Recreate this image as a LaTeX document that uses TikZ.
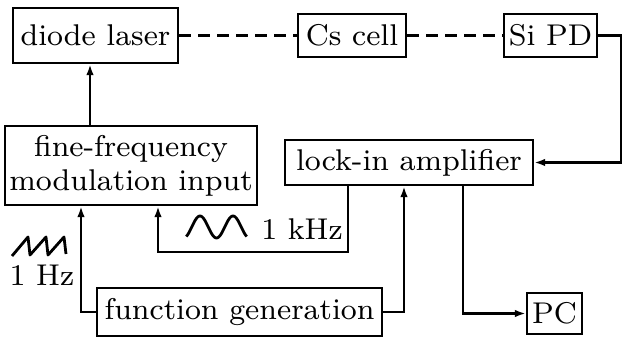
\documentclass[tikz,border=0pt]{standalone}
\usepackage{fontspec}
\newfontfamily\labelfont{lmroman8-regular.otf}
\usetikzlibrary{arrows.meta}
\begin{document}
\begin{tikzpicture}[x=0.5pt,y=-0.5pt,
  every node/.style={font=\labelfont\fontsize{15}{17}\selectfont},
  blk/.style={draw,line width=1.2pt,inner sep=0pt,align=center},
  wire/.style={line width=1.2pt},
  arr/.style={wire,-{Latex[length=5.5pt,width=3.8pt]}},
  beam/.style={wire,dash pattern=on 6pt off 3.5pt}]
\useasboundingbox (0,0) rectangle (622,340);

% blocks
\node[blk,minimum width=82.5pt,minimum height=27.5pt] (dl) at (95.5,35.5) {diode laser};
\node[blk,minimum width=54pt,minimum height=21.5pt] (cs) at (352,35.5) {Cs cell};
\node[blk,minimum width=46.5pt,minimum height=21.5pt] (pd) at (550.5,35.5) {Si PD};
\node[blk,minimum width=126pt,minimum height=39.5pt] (fm) at (131,165.5) {fine-frequency\\modulation input};
\node[blk,minimum width=124pt,minimum height=22.5pt] (li) at (409,162.5) {lock-in amplifier};
\node[blk,minimum width=142.5pt,minimum height=24pt] (fg) at (239.5,312) {function generation};
\node[blk,minimum width=27.5pt,minimum height=20.5pt] (pc) at (554.5,313.5) {PC};

% laser beam path
\draw[beam] (dl.east) -- (cs.west);
\draw[beam] (cs.east) -- (pd.west);

% guide coordinates for the wiring
\coordinate (xl) at (90,0);
\coordinate (xr) at (621,0);
\coordinate (xs) at (81,0);
\coordinate (k1) at (348,252);
\coordinate (xk) at (158,0);
\coordinate (xf) at (404,0);
\coordinate (xp) at (463,0);

% signal wiring
\draw[arr] (xl |- fm.north) -- (xl |- dl.south);
\draw[arr] (pd.east) -| (xr |- li.east) -- (li.east);
\draw[arr] (fg.west) -| (xs |- fm.south);
\draw[arr] (li.south -| k1) -- (k1) -| (xk |- fm.south);
\draw[arr] (fg.east) -| (xf |- li.south);
\draw[arr] (xp |- li.south) |- (pc.west);

% modulation labels
\node (lk) at (302,229) {1 kHz};
\node (lh) at (42,275) {1 Hz};
\draw[line width=1.4pt,line join=round]
  plot[domain=-60:600,samples=80,smooth] ({200+(\x-90)/360*33},{227-11*sin(\x)});
\draw[line width=1.4pt,line join=round]
  (12,256) -- (28,237) -- (30,255) -- (46,237) -- (48,255) -- (64,237) -- (66,254);
\end{tikzpicture}
\end{document}
